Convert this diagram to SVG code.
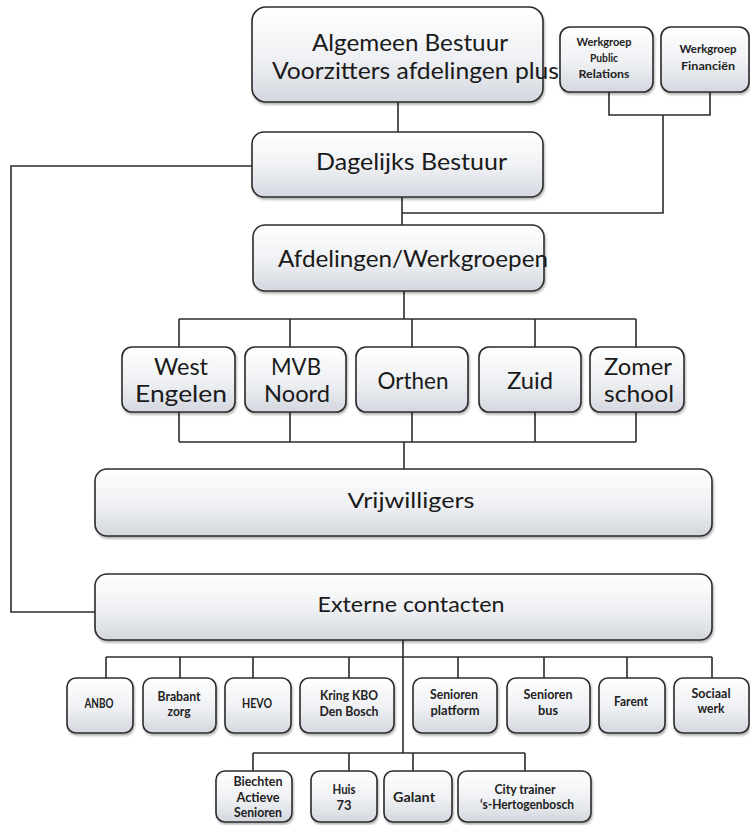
<svg xmlns="http://www.w3.org/2000/svg" width="750" height="825" viewBox="0 0 750 825">
<style>
.box{fill:url(#g);stroke:#2b2b2b;stroke-width:1.6;filter:url(#sh)}
.big{font-family:Lato,"Open Sans","Liberation Sans",sans-serif;font-size:24px;fill:#1a1a1a;text-anchor:middle}
.mid{font-family:Lato,"Open Sans","Liberation Sans",sans-serif;font-size:22px;fill:#1a1a1a;text-anchor:middle}
.sm{font-family:Lato,"Open Sans","Liberation Sans",sans-serif;font-size:13px;font-weight:700;fill:#222;text-anchor:middle}
.xs{font-family:Lato,"Open Sans","Liberation Sans",sans-serif;font-size:12px;font-weight:700;fill:#222;text-anchor:middle}
#connectors path{fill:none;stroke:#2b2b2b;stroke-width:1.6}
</style>
<defs>
<linearGradient id="g" x1="0" y1="0" x2="0" y2="1">
<stop offset="0" stop-color="#ffffff"/>
<stop offset="0.55" stop-color="#eef0f3"/>
<stop offset="1" stop-color="#d3d7de"/>
</linearGradient>
<filter id="sh" x="-10%" y="-10%" width="120%" height="130%">
<feDropShadow dx="1" dy="2" stdDeviation="1.2" flood-color="#000" flood-opacity="0.3"/>
</filter>
</defs>
<rect width="750" height="825" fill="#ffffff"/>
<g id="connectors">
<path d="M398,102 V132"/>
<path d="M609,92 V115 H710 V92"/>
<path d="M663,115 V213 H402"/>
<path d="M402,197 V225"/>
<path d="M252,166 H11 V612 H95"/>
<path d="M404,291 V319"/>
<path d="M179,319 H636"/>
<path d="M179,319 V347 M290,319 V347 M412,319 V347 M535,319 V347 M636,319 V347"/>
<path d="M179,412 V442 M290,412 V442 M412,412 V442 M535,412 V442 M636,412 V442"/>
<path d="M179,442 H636"/>
<path d="M404,442 V469"/>
<path d="M403,640 V753"/>
<path d="M106,657 H712"/>
<path d="M106,657 V678 M180,657 V678 M253,657 V678 M349,657 V678 M458,657 V678 M544,657 V678 M627,657 V678 M712,657 V678"/>
<path d="M253,753 H525"/>
<path d="M253,753 V771 M349,753 V771 M413,753 V771 M525,753 V771"/>
</g>
<g id="algemeen-bestuur">
<rect class="box" x="252" y="7" width="291" height="95" rx="14"/>
<text class="big" x="410" y="51" textLength="196" lengthAdjust="spacingAndGlyphs">Algemeen Bestuur</text>
<text class="big" x="415.5" y="79" textLength="287" lengthAdjust="spacingAndGlyphs">Voorzitters afdelingen plus</text>
</g>
<g id="werkgroep-pr">
<rect class="box" x="560" y="27" width="93" height="65" rx="10"/>
<text class="xs" x="604" y="46" textLength="55" lengthAdjust="spacingAndGlyphs">Werkgroep</text>
<text class="xs" x="604" y="62" textLength="28" lengthAdjust="spacingAndGlyphs">Public</text>
<text class="xs" x="604" y="78" textLength="51" lengthAdjust="spacingAndGlyphs">Relations</text>
</g>
<g id="werkgroep-fin">
<rect class="box" x="661" y="27" width="88" height="65" rx="10"/>
<text class="xs" x="708" y="53" textLength="57" lengthAdjust="spacingAndGlyphs">Werkgroep</text>
<text class="xs" x="708" y="70" textLength="54" lengthAdjust="spacingAndGlyphs">Financiën</text>
</g>
<g id="dagelijks-bestuur">
<rect class="box" x="252" y="132" width="291" height="65" rx="12"/>
<text class="big" x="411.5" y="170" textLength="191" lengthAdjust="spacingAndGlyphs">Dagelijks Bestuur</text>
</g>
<g id="afdelingen">
<rect class="box" x="253" y="225" width="291" height="66" rx="12"/>
<text class="big" x="413" y="267" textLength="270" lengthAdjust="spacingAndGlyphs">Afdelingen/Werkgroepen</text>
</g>
<g id="west-engelen">
<rect class="box" x="122" y="347" width="113" height="65" rx="10"/>
<text class="big" x="181" y="375" textLength="54" lengthAdjust="spacingAndGlyphs">West</text>
<text class="big" x="181" y="402" textLength="92" lengthAdjust="spacingAndGlyphs">Engelen</text>
</g>
<g id="mvb-noord">
<rect class="box" x="245" y="347" width="101" height="65" rx="10"/>
<text class="big" x="296" y="375" textLength="50" lengthAdjust="spacingAndGlyphs">MVB</text>
<text class="big" x="297" y="402" textLength="66" lengthAdjust="spacingAndGlyphs">Noord</text>
</g>
<g id="orthen">
<rect class="box" x="356" y="347" width="112" height="65" rx="10"/>
<text class="big" x="413" y="389" textLength="71" lengthAdjust="spacingAndGlyphs">Orthen</text>
</g>
<g id="zuid">
<rect class="box" x="479" y="347" width="102" height="65" rx="10"/>
<text class="big" x="530" y="389" textLength="46" lengthAdjust="spacingAndGlyphs">Zuid</text>
</g>
<g id="zomer-school">
<rect class="box" x="590" y="347" width="94" height="65" rx="10"/>
<text class="big" x="638" y="375" textLength="68" lengthAdjust="spacingAndGlyphs">Zomer</text>
<text class="big" x="639" y="402" textLength="70" lengthAdjust="spacingAndGlyphs">school</text>
</g>
<g id="vrijwilligers">
<rect class="box" x="95" y="469" width="617" height="67" rx="12"/>
<text class="mid" x="411" y="508" textLength="127" lengthAdjust="spacingAndGlyphs">Vrijwilligers</text>
</g>
<g id="externe-contacten">
<rect class="box" x="95" y="574" width="617" height="66" rx="12"/>
<text class="mid" x="411" y="612" textLength="187" lengthAdjust="spacingAndGlyphs">Externe contacten</text>
</g>
<g id="anbo">
<rect class="box" x="67" y="678" width="66" height="55" rx="9"/>
<text class="sm" x="99" y="708" textLength="29" lengthAdjust="spacingAndGlyphs">ANBO</text>
</g>
<g id="brabant-zorg">
<rect class="box" x="143" y="678" width="73" height="55" rx="9"/>
<text class="sm" x="179" y="701" textLength="43" lengthAdjust="spacingAndGlyphs">Brabant</text>
<text class="sm" x="179" y="716" textLength="23" lengthAdjust="spacingAndGlyphs">zorg</text>
</g>
<g id="hevo">
<rect class="box" x="225" y="678" width="66" height="55" rx="9"/>
<text class="sm" x="257" y="708" textLength="30" lengthAdjust="spacingAndGlyphs">HEVO</text>
</g>
<g id="kring-kbo">
<rect class="box" x="300" y="678" width="94" height="55" rx="9"/>
<text class="sm" x="349" y="700" textLength="58" lengthAdjust="spacingAndGlyphs">Kring KBO</text>
<text class="sm" x="349" y="716" textLength="59" lengthAdjust="spacingAndGlyphs">Den Bosch</text>
</g>
<g id="senioren-platform">
<rect class="box" x="413" y="678" width="84" height="55" rx="9"/>
<text class="sm" x="454" y="699" textLength="48" lengthAdjust="spacingAndGlyphs">Senioren</text>
<text class="sm" x="455" y="715" textLength="49" lengthAdjust="spacingAndGlyphs">platform</text>
</g>
<g id="senioren-bus">
<rect class="box" x="507" y="678" width="83" height="55" rx="9"/>
<text class="sm" x="548" y="699" textLength="49" lengthAdjust="spacingAndGlyphs">Senioren</text>
<text class="sm" x="548" y="715" textLength="20" lengthAdjust="spacingAndGlyphs">bus</text>
</g>
<g id="farent">
<rect class="box" x="599" y="678" width="66" height="55" rx="9"/>
<text class="sm" x="631" y="706" textLength="34" lengthAdjust="spacingAndGlyphs">Farent</text>
</g>
<g id="sociaal-werk">
<rect class="box" x="674" y="678" width="75" height="55" rx="9"/>
<text class="sm" x="711" y="698" textLength="39" lengthAdjust="spacingAndGlyphs">Sociaal</text>
<text class="sm" x="711" y="713" textLength="27" lengthAdjust="spacingAndGlyphs">werk</text>
</g>
<g id="biechten">
<rect class="box" x="216" y="771" width="76" height="51" rx="9"/>
<text class="sm" x="258" y="786" textLength="49" lengthAdjust="spacingAndGlyphs">Biechten</text>
<text class="sm" x="258" y="802" textLength="43" lengthAdjust="spacingAndGlyphs">Actieve</text>
<text class="sm" x="258" y="817" textLength="48" lengthAdjust="spacingAndGlyphs">Senioren</text>
</g>
<g id="huis-73">
<rect class="box" x="311" y="771" width="66" height="51" rx="9"/>
<text class="sm" x="344" y="794" textLength="23" lengthAdjust="spacingAndGlyphs">Huis</text>
<text class="sm" x="344" y="810" textLength="15" lengthAdjust="spacingAndGlyphs">73</text>
</g>
<g id="galant">
<rect class="box" x="384" y="771" width="68" height="51" rx="9"/>
<text class="sm" x="414" y="802" textLength="42" lengthAdjust="spacingAndGlyphs">Galant</text>
</g>
<g id="city-trainer">
<rect class="box" x="458" y="771" width="133" height="51" rx="9"/>
<text class="sm" x="525" y="794" textLength="61" lengthAdjust="spacingAndGlyphs">City trainer</text>
<text class="sm" x="527" y="809" textLength="94" lengthAdjust="spacingAndGlyphs">‘s-Hertogenbosch</text>
</g>
</svg>
